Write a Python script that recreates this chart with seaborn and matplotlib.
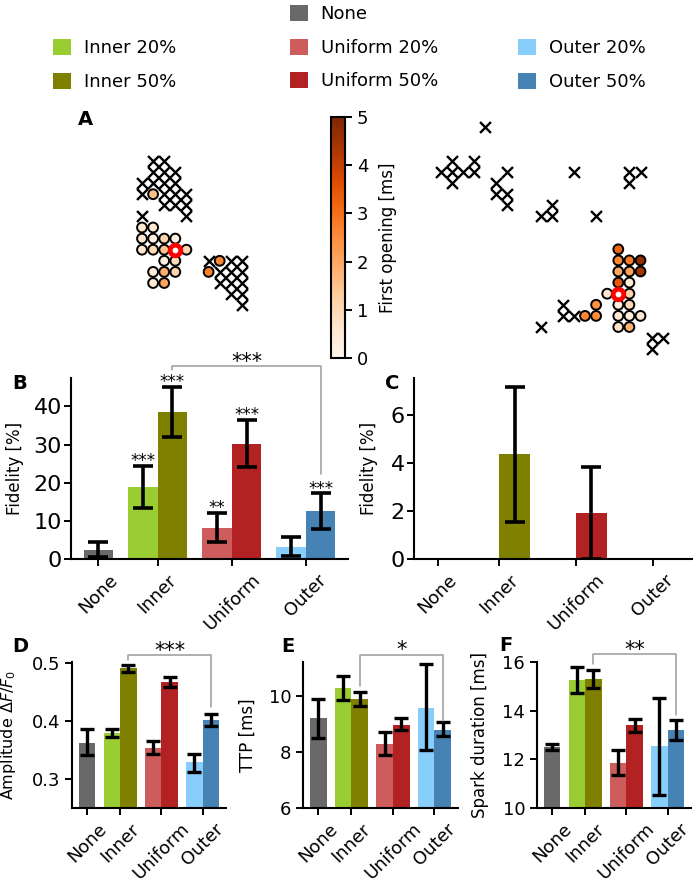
import numpy as np
import pandas as pd
import matplotlib
matplotlib.use("Agg")
import matplotlib.pyplot as plt
import seaborn as sns
from matplotlib.patches import Patch
from matplotlib.colors import Normalize
from matplotlib.cm import ScalarMappable

W, H = 694, 883

# ==================================
# Bar data
# ==================================
groups = ["None", "Inner", "Uniform", "Outer"]
group_ticks = [0.2, 1.0, 2.0, 3.0]
conditions = ["None", "Inner 20%", "Inner 50%", "Uniform 20%", "Uniform 50%", "Outer 20%", "Outer 50%"]
cond_group = [0, 1, 1, 2, 2, 3, 3]
cond_level = ["", "20%", "50%", "20%", "50%", "20%", "50%"]
cond_colors = ["#696969", "#9acd32", "#808000", "#cd5c5c", "#b22222", "#87cefa", "#4682b4"]

fid_b = [2.3, 19.0, 38.6, 8.1, 30.2, 3.2, 12.6]
fid_b_lo = [0.4, 13.5, 31.9, 4.4, 24.0, 0.9, 7.9]
fid_b_hi = [4.5, 24.4, 45.2, 12.1, 36.5, 5.8, 17.2]
fid_b_stars = ["", "***", "***", "**", "***", "", "***"]

fid_c = [0, 0, 4.37, 0, 1.9, 0, 0]
fid_c_lo = [None, None, 1.56, None, 0.02, None, None]
fid_c_hi = [None, None, 7.19, None, 3.82, None, None]

amp = [0.363, 0.379, 0.491, 0.354, 0.468, 0.329, 0.402]
amp_lo = [0.341, 0.373, 0.485, 0.343, 0.459, 0.313, 0.391]
amp_hi = [0.386, 0.386, 0.497, 0.365, 0.476, 0.344, 0.413]

ttp = [9.2, 10.27, 9.89, 8.29, 8.96, 9.57, 8.79]
ttp_lo = [8.51, 9.86, 9.65, 7.9, 8.79, 8.07, 8.55]
ttp_hi = [9.88, 10.71, 10.13, 8.70, 9.19, 11.12, 9.05]

dur = [12.51, 15.24, 15.31, 11.85, 13.4, 12.54, 13.19]
dur_lo = [12.4, 14.72, 14.95, 11.34, 13.12, 10.54, 12.79]
dur_hi = [12.65, 15.79, 15.68, 12.4, 13.67, 14.53, 13.62]

# ==================================
# Map data (lattice columns / rows, first opening in ms)
# ==================================
left_open_c = [-2, -3, -2, -3, -2, -1, 0, -3, -2, -1, 1, -1, 0, -2, -1, 0, -2, -1, 4, 3]
left_open_r = [-5, -2, -2, -1, -1, -1, -1, 0, 0, 0, 0, 1, 1, 2, 2, 2, 3, 3, 1, 2]
left_open_ms = [1.6, 0.6, 0.5, 0.6, 0.3, 1.1, 0.2, 0.6, 1.0, 1.5, 1.1, 0.2, 0.9, 0.4, 1.9, 1.1, 0.5, 2.1, 2.6, 2.7]
left_closed_c = [-2, -1, -2, -1, 0, -3, -2, -1, 0, -3, -1, 0, 1, -1, 0, 1, 1, -3,
                 3, 5, 6, 4, 5, 6, 4, 5, 6, 5, 6, 6]
left_closed_r = [-8, -8, -7, -7, -7, -6, -6, -6, -6, -5, -5, -5, -5, -4, -4, -4, -3, -3,
                 1, 1, 1, 2, 2, 2, 3, 3, 3, 4, 4, 5]

right_open_c = [0, 0, 1, 2, 0, 1, 2, 0, 1, -1, 1, 0, 1, 0, 1, 2, 0, 1, -2, -3, -2]
right_open_r = [-4, -3, -3, -3, -2, -2, -2, -1, -1, 0, 0, 1, 1, 2, 2, 2, 3, 3, 1, 2, 2]
right_open_ms = [3.2, 2.6, 2.8, 4.7, 2.0, 2.1, 4.4, 3.4, 0.4, 0.6, 1.2, 0.3, 1.0, 0.5, 0.3, 0.5, 0.7, 1.8, 2.4, 2.6, 2.5]
right_closed_c = [-12, -16, -15, -15, -15, -14, -13, -13, -10, -11, -11, -10, -10,
                  -7, -6, -6, -4, -2, 1, 2, 1, -7, -5, -5, -4, 3, 4, 3]
right_closed_r = [-15, -11, -12, -11, -10, -11, -12, -11, -11, -10, -9, -9, -8,
                  -7, -8, -7, -11, -7, -11, -11, -10, 3, 1, 2, 2, 4, 4, 5]

STEP = 11.1  # lattice spacing in pixels


def px_rect(x0, y0, x1, y1):
    return [x0 / W, 1 - y1 / H, (x1 - x0) / W, (y1 - y0) / H]


sns.set_theme(style="ticks")
plt.rcParams.update({
    "font.family": ["DejaVu Sans"],
    "axes.linewidth": 1.5,
    "axes.edgecolor": "black",
    "axes.labelcolor": "black",
    "text.color": "black",
    "xtick.color": "black",
    "ytick.color": "black",
    "xtick.major.width": 1.4,
    "ytick.major.width": 1.4,
    "xtick.major.size": 5,
    "ytick.major.size": 5,
    "xtick.labelsize": 13,
    "ytick.labelsize": 13,
    "axes.labelsize": 12,
})

fig = plt.figure(figsize=(W / 100, H / 100), dpi=100)


# ==================================
# Panel A: maps
# ==================================
def draw_map(rect, center, oc, orr, oms, cc, cr):
    ax = fig.add_axes(px_rect(*rect))
    sns.scatterplot(x=cc, y=[-r for r in cr], marker="x", color="black",
                    s=62, linewidth=1.7, ax=ax, zorder=2)
    sns.scatterplot(x=oc, y=[-r for r in orr], hue=oms, palette="Oranges",
                    hue_norm=(0, 5), s=50, edgecolor="black", linewidth=1.4,
                    legend=False, ax=ax, zorder=3)
    ax.scatter([0], [0], s=58, facecolor="white", edgecolor="red",
               linewidth=3.4, zorder=4)
    x0, y0, x1, y1 = rect
    cx, cy = center
    ax.set_xlim((x0 - cx) / STEP, (x1 - cx) / STEP)
    ax.set_ylim((cy - y1) / STEP, (cy - y0) / STEP)
    ax.axis("off")
    return ax


draw_map((70, 105, 320, 345), (175.3, 249.7),
         left_open_c, left_open_r, left_open_ms, left_closed_c, left_closed_r)
draw_map((400, 105, 694, 360), (618.3, 293.7),
         right_open_c, right_open_r, right_open_ms, right_closed_c, right_closed_r)

cax = fig.add_axes(px_rect(331, 117, 345, 358))
cb = fig.colorbar(ScalarMappable(norm=Normalize(0, 5), cmap="Oranges"), cax=cax)
cb.set_ticks(range(6))
cb.set_label("First opening [ms]", fontsize=12, labelpad=8)
cb.outline.set_linewidth(1.5)
cax.tick_params(labelsize=13, width=1.4, length=5)


# ==================================
# Bar panels
# ==================================
shift = {"": 0.0, "20%": -0.2, "50%": 0.2}
positions = np.array([group_ticks[g] + shift[lv] for g, lv in zip(cond_group, cond_level)])
palette = dict(zip(conditions, cond_colors))


def bar_panel(rect, means, lo, hi, ylabel, capsize, elw, ysize=13, ypad=3.5):
    ax = fig.add_axes(px_rect(*rect))
    df = pd.DataFrame({"pos": positions, "value": means, "cond": conditions})
    sns.barplot(data=df, x="pos", y="value", hue="cond", palette=palette,
                native_scale=True, width=1.0, saturation=1, errorbar=None,
                legend=False, linewidth=0, ax=ax)
    m = np.array(means, dtype=float)
    lo = np.array(lo, dtype=float)
    hi = np.array(hi, dtype=float)
    ax.errorbar(positions, m, yerr=[m - lo, hi - m], fmt="none", ecolor="black",
                elinewidth=elw, capsize=capsize, capthick=elw, zorder=5)
    ax.set_xticks(group_ticks, groups)
    ax.tick_params(axis="x", rotation=45)
    ax.tick_params(axis="y", labelsize=ysize, pad=ypad)
    ax.set_xlabel("")
    ax.set_ylabel(ylabel)
    sns.despine(ax=ax)
    return ax


def bracket(ax, x1, x2, y, y1, y2, text, size=15):
    ax.plot([x1, x1, x2, x2], [y1, y, y, y2], color="#9a9a9a", lw=1.1,
            clip_on=False, zorder=6, scalex=False, scaley=False)
    ax.annotate(text, xy=((x1 + x2) / 2, y), xytext=(0, -4), textcoords="offset points",
                ha="center", va="bottom", fontsize=size, annotation_clip=False)


axB = bar_panel((71, 378, 348, 559), fid_b, fid_b_lo, fid_b_hi, "Fidelity [%]", 7, 2.6, 16, 1.5)
for x, top, s in zip(positions, fid_b_hi, fid_b_stars):
    if s:
        axB.annotate(s, xy=(x, top), xytext=(0, -3), textcoords="offset points",
                     ha="center", va="bottom", fontsize=12)
axB.set_yticks([0, 10, 20, 30, 40])
bracket(axB, 1.2, 3.2, 50.5, 49.5, 22.2, "***")

axC = bar_panel((414, 378, 692, 559), fid_c, fid_c_lo, fid_c_hi, "Fidelity [%]", 7, 2.6, 16, 1.5)
axC.set_xlim(-0.11, 3.51)
axC.set_yticks([0, 2, 4, 6])

axD = bar_panel((72, 662, 226, 808), amp, amp_lo, amp_hi, r"Amplitude $\Delta F/F_0$", 5, 2.4)
axD.set_ylim(0.25, 0.502)
axD.set_yticks([0.3, 0.4, 0.5])
axD.yaxis.label.set_fontsize(11.5)
bracket(axD, 1.2, 3.2, 0.514, 0.505, 0.425, "***")

axE = bar_panel((303, 662, 458, 808), ttp, ttp_lo, ttp_hi, "TTP [ms]", 5, 2.4)
axE.set_ylim(6, 11.2)
axE.set_yticks([6, 8, 10])
bracket(axE, 1.2, 3.2, 11.46, 10.33, 9.1, "*")

axF = bar_panel((537, 662, 691, 808), dur, dur_lo, dur_hi, "Spark duration [ms]", 5, 2.4)
axF.set_ylim(10, 16)
axF.set_yticks([10, 12, 14, 16])
bracket(axF, 1.2, 3.2, 16.31, 15.9, 13.82, "**")

# y label positions (pixel x of the label's right side)
for ax, xlab in [(axB, 24), (axC, 377.5), (axD, 18.5), (axE, 257), (axF, 489)]:
    bb = ax.get_position()
    ax.yaxis.set_label_coords((xlab / W - bb.x0) / bb.width, 0.5)

# ==================================
# Panel letters
# ==================================
for letter, (x, y) in {"A": (85.5, 119.5), "B": (20, 383.5), "C": (392, 383.5),
                       "D": (20, 646.5), "E": (287.5, 646.5), "F": (506, 645.5)}.items():
    fig.text(x / W, 1 - y / H, letter, fontsize=14, fontweight="bold",
             ha="center", va="center")

# ==================================
# Legend (one column per spatial pattern)
# ==================================
legend_cols = [
    (["Inner 20%", "Inner 50%"], 53, 39),
    (["None", "Uniform 20%", "Uniform 50%"], 290, 5),
    (["Outer 20%", "Outer 50%"], 518, 39),
]
for labels, x, y in legend_cols:
    handles = [Patch(facecolor=palette[l], edgecolor="none") for l in labels]
    fig.legend(handles, labels, loc="upper left", bbox_to_anchor=(x / W, 1 - y / H),
               frameon=False, fontsize=13, handlelength=1.0, handleheight=1.0,
               handletextpad=0.7, labelspacing=0.85, borderpad=0, borderaxespad=0)

fig.savefig("out.png", dpi=100)
